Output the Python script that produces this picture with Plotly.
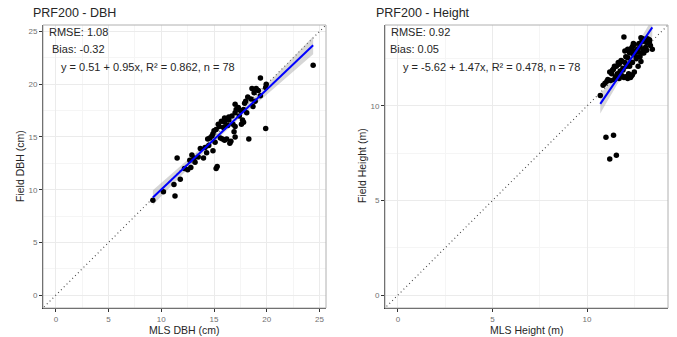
import numpy as np
import plotly.graph_objects as go

# ---- DBH: MLS vs field (cm) ----
dbh_mls = [24.4, 19.4, 19.9, 18.3, 11.5, 11.3, 9.2, 10.2, 11.2, 11.8, 12.2, 12.8, 12.9, 12.7,
           13.5, 14.0, 13.7, 14.3, 14.9, 15.2, 15.3, 14.4, 14.8, 15.8, 16.2, 16.6, 15.2, 15.4,
           15.7, 16.2, 16.9, 17.6, 17.7, 17.0, 17.1, 17.5, 18.1, 17.9, 18.5, 18.6, 18.8, 19.2,
           19.4, 18.7, 19.9, 14.15, 14.6, 14.9, 15.5, 16.0, 16.4, 16.7, 15.6, 16.0, 16.5, 13.1,
           17.0, 17.0, 18.0, 19.0, 19.95, 17.3, 17.0, 16.4, 16.0, 17.8, 18.2, 17.4, 15.0, 15.9,
           16.8, 13.2, 14.5, 18.9, 17.8, 16.3, 15.1, 12.5]
dbh_field = [21.8, 20.6, 15.8, 14.8, 13.0, 9.4, 9.0, 9.8, 10.5, 11.0, 12.0, 12.1, 13.3, 12.8,
             13.1, 13.0, 13.9, 13.5, 13.7, 12.0, 12.2, 14.8, 15.1, 14.8, 14.8, 14.6, 15.7, 16.2,
             16.5, 16.7, 15.5, 16.2, 16.6, 18.1, 17.6, 17.5, 17.3, 18.2, 18.6, 19.6, 19.2, 19.4,
             18.9, 17.9, 19.7, 14.0, 14.9, 15.3, 16.0, 16.4, 16.9, 17.0, 14.9, 14.7, 14.4, 13.0,
             16.0, 15.0, 18.4, 19.6, 20.0, 17.8, 17.3, 16.6, 16.8, 16.4, 18.8, 17.0, 15.6, 15.9,
             16.2, 12.6, 14.2, 18.4, 17.6, 16.1, 14.5, 11.9]

# ---- Height: MLS vs field (m) ----
ht_mls = [11.0, 11.4, 11.2, 11.55, 11.95, 10.7, 10.85, 10.95, 11.25, 11.45, 11.6, 11.35, 11.55,
          11.65, 11.8, 11.95, 12.15, 12.3, 12.4, 12.05, 12.25, 12.15, 12.4, 12.45, 12.85, 12.9,
          12.8, 13.15, 13.3, 13.45, 13.15, 12.6, 12.7, 12.3, 11.9, 12.95, 12.75, 12.5, 12.35,
          13.35, 13.1, 12.15, 12.0, 11.9, 11.75, 11.6, 11.45, 11.4, 12.4, 12.6, 12.8, 12.35,
          12.2, 12.05, 11.1, 11.7, 11.85, 12.1, 12.55, 12.95, 13.2, 12.65, 11.5, 12.25, 11.3,
          12.45, 12.7, 13.0, 12.85, 11.85, 12.5, 11.2, 13.3, 12.0, 11.7, 12.3, 12.9, 11.05]
ht_field = [8.35, 8.45, 7.2, 7.4, 13.65, 10.55, 11.1, 11.2, 11.35, 11.4, 11.55, 11.9, 12.1,
            12.3, 12.4, 11.5, 11.45, 11.5, 11.65, 12.6, 12.8, 13.0, 13.15, 13.3, 13.6, 13.4,
            13.15, 13.35, 13.5, 13.0, 12.95, 12.6, 12.1, 12.3, 11.9, 13.55, 13.3, 13.25, 13.05,
            13.2, 13.1, 12.55, 12.3, 12.0, 11.85, 11.7, 12.1, 11.95, 12.3, 12.5, 12.6, 11.6,
            11.7, 11.55, 11.4, 12.2, 12.35, 12.1, 12.9, 13.0, 13.55, 13.0, 11.55, 12.1, 11.7,
            12.75, 12.85, 12.8, 12.35, 11.6, 11.8, 11.8, 13.4, 12.9, 11.45, 12.95, 12.8, 11.3]

# Fitted model coefficients and summary statistics
dbh_fit = {"intercept": 0.51, "slope": 0.95, "r2": 0.862, "n": 78, "rmse": 1.08, "bias": -0.32}
ht_fit = {"intercept": -5.62, "slope": 1.47, "r2": 0.478, "n": 78, "rmse": 0.92, "bias": 0.05}

dbh_lim = [-1.22, 25.62]
ht_lim = [-0.68, 14.28]

FONT = "Liberation Sans, Arial, sans-serif"
TXT = "#262626"
TICK_TXT = "#707070"

fig = go.Figure()


def fit_band(x, y, fit):
    x = np.asarray(x, float)
    y = np.asarray(y, float)
    xs = np.linspace(x.min(), x.max(), 80)
    yhat = fit["intercept"] + fit["slope"] * xs
    resid = y - (fit["intercept"] + fit["slope"] * x)
    n = len(x)
    s = np.sqrt(np.sum(resid ** 2) / (n - 2))
    sxx = np.sum((x - x.mean()) ** 2)
    se = s * np.sqrt(1.0 / n + (xs - x.mean()) ** 2 / sxx)
    return xs, yhat, yhat - 1.99 * se, yhat + 1.99 * se


def add_panel(x, y, fit, lim, xa, ya):
    # 1:1 reference line
    fig.add_trace(go.Scatter(x=[lim[0] - 5, lim[1] + 5], y=[lim[0] - 5, lim[1] + 5],
                             mode="lines", line=dict(color="#444444", width=1.1, dash="1px,3px"),
                             xaxis=xa, yaxis=ya, hoverinfo="skip", showlegend=False))
    xs, yhat, lo, hi = fit_band(x, y, fit)
    # confidence band
    fig.add_trace(go.Scatter(x=np.concatenate([xs, xs[::-1]]), y=np.concatenate([hi, lo[::-1]]),
                             fill="toself", fillcolor="rgba(153,153,153,0.4)",
                             line=dict(width=0), mode="lines",
                             xaxis=xa, yaxis=ya, hoverinfo="skip", showlegend=False))
    # observations
    fig.add_trace(go.Scatter(x=x, y=y, mode="markers",
                             marker=dict(color="black", size=5.5),
                             xaxis=xa, yaxis=ya, showlegend=False))
    # regression line
    fig.add_trace(go.Scatter(x=xs, y=yhat, mode="lines",
                             line=dict(color="#0000ff", width=2),
                             xaxis=xa, yaxis=ya, hoverinfo="skip", showlegend=False))


add_panel(dbh_mls, dbh_field, dbh_fit, dbh_lim, "x", "y")
add_panel(ht_mls, ht_field, ht_fit, ht_lim, "x2", "y2")


def axis_style(domain, rng, anchor):
    return dict(domain=domain, range=rng, anchor=anchor, autorange=False,
                showline=True, linecolor="#333333", linewidth=1, mirror=False,
                ticks="outside", ticklen=3, tickcolor="#333333", tickwidth=1,
                tick0=0, dtick=5,
                tickfont=dict(family=FONT, size=8, color=TICK_TXT),
                showgrid=True, gridcolor="#ebebeb", gridwidth=1, zeroline=False,
                minor=dict(dtick=2.5, tick0=0, showgrid=True, gridcolor="#f5f5f5", gridwidth=1))


W, H = 677, 337
yd = [1 - 308 / H, 1 - 25 / H]
xd1 = [43 / W, 326 / W]
xd2 = [385 / W, 668 / W]

fig.update_layout(
    width=W, height=H,
    margin=dict(l=0, r=0, t=0, b=0),
    paper_bgcolor="white", plot_bgcolor="white",
    font=dict(family=FONT, color=TXT),
    xaxis=axis_style(xd1, dbh_lim, "y"),
    yaxis=axis_style(yd, dbh_lim, "x"),
    xaxis2=axis_style(xd2, ht_lim, "y2"),
    yaxis2=axis_style(yd, ht_lim, "x2"),
)

# panel borders
for xr, yr in [("x domain", "y domain"), ("x2 domain", "y2 domain")]:
    fig.add_shape(type="rect", xref=xr, yref=yr, x0=0, x1=1, y0=0, y1=1,
                  line=dict(color="#b0b0b0", width=1), layer="above")


def px_ann(text, x, y, size, xanchor="left", yanchor="middle", angle=0):
    fig.add_annotation(text=text, x=x / W, y=1 - y / H, xref="paper", yref="paper",
                       showarrow=False, xanchor=xanchor, yanchor=yanchor, textangle=angle,
                       font=dict(family=FONT, size=size, color=TXT))


def stats_text(fit):
    return (f"RMSE: {fit['rmse']:.2f}", f"Bias: {fit['bias']:.2f}",
            f"y = {fit['intercept']:.2f} + {fit['slope']:.2f}x, R² = {fit['r2']:.3f}, n = {fit['n']}")


# titles
px_ann("PRF200 - DBH", 31, 13, 12.5)
px_ann("PRF200 - Height", 374, 13, 12.5)

# statistics
r, b, e = stats_text(dbh_fit)
px_ann(r, 47, 32, 11)
px_ann(b, 50, 49, 11)
px_ann(e, 59, 67, 11)
r, b, e = stats_text(ht_fit)
px_ann(r, 389, 32, 11)
px_ann(b, 388, 49, 11)
px_ann(e, 401, 67, 11)

# axis titles
px_ann("MLS DBH (cm)", 184.5, 330, 10.5, xanchor="center")
px_ann("MLS Height (m)", 526.5, 330, 10.5, xanchor="center")
px_ann("Field DBH (cm)", 20, 166, 10.5, xanchor="center", angle=-90)
px_ann("Field Height (m)", 362, 166, 10.5, xanchor="center", angle=-90)

fig.write_html("out.html")
